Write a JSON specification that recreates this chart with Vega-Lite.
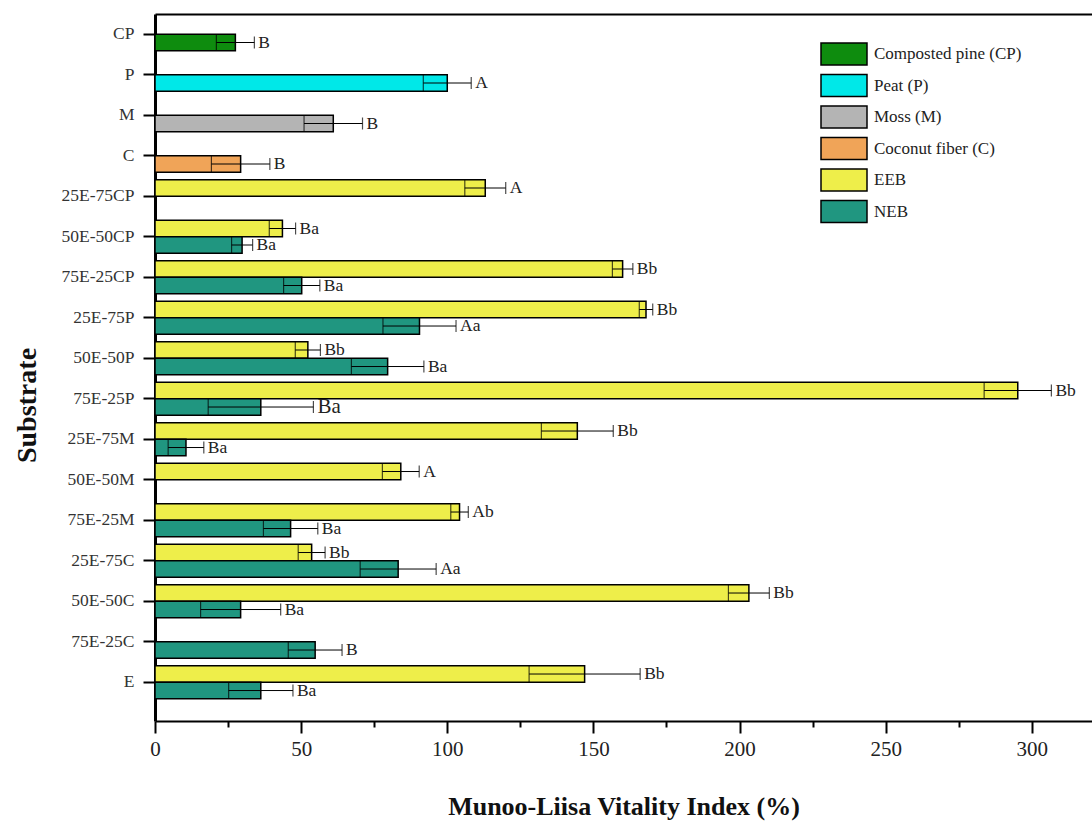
{
  "$schema": "https://vega.github.io/schema/vega-lite/v6.json",
  "width": 937,
  "height": 707,
  "autosize": {"type": "none"},
  "padding": {"left": 155, "top": 14, "right": 0, "bottom": 104},
  "background": "white",
  "data": {
    "values": [
      {"substrate": "CP", "group": "Composted pine (CP)", "value": 27.5, "err": 6.5, "label": "B"},
      {"substrate": "P", "group": "Peat (P)", "value": 100, "err": 8.2, "label": "A"},
      {"substrate": "M", "group": "Moss (M)", "value": 61, "err": 10, "label": "B"},
      {"substrate": "C", "group": "Coconut fiber (C)", "value": 29.3, "err": 10, "label": "B"},
      {"substrate": "25E-75CP", "group": "EEB", "value": 113, "err": 7, "label": "A"},
      {"substrate": "50E-50CP", "group": "EEB", "value": 43.6, "err": 4.5, "label": "Ba"},
      {"substrate": "50E-50CP", "group": "NEB", "value": 29.8, "err": 3.6, "label": "Ba"},
      {"substrate": "75E-25CP", "group": "EEB", "value": 160, "err": 3.5, "label": "Bb"},
      {"substrate": "75E-25CP", "group": "NEB", "value": 50.2, "err": 6.2, "label": "Ba"},
      {"substrate": "25E-75P", "group": "EEB", "value": 168, "err": 2.3, "label": "Bb"},
      {"substrate": "25E-75P", "group": "NEB", "value": 90.5, "err": 12.5, "label": "Aa"},
      {"substrate": "50E-50P", "group": "EEB", "value": 52.3, "err": 4.3, "label": "Bb"},
      {"substrate": "50E-50P", "group": "NEB", "value": 79.6, "err": 12.4, "label": "Ba"},
      {"substrate": "75E-25P", "group": "EEB", "value": 295.2, "err": 11.5, "label": "Bb"},
      {"substrate": "75E-25P", "group": "NEB", "value": 36.2, "err": 18, "label": "Ba"},
      {"substrate": "25E-75M", "group": "EEB", "value": 144.5, "err": 12.3, "label": "Bb"},
      {"substrate": "25E-75M", "group": "NEB", "value": 10.6, "err": 6.1, "label": "Ba"},
      {"substrate": "50E-50M", "group": "EEB", "value": 84.1, "err": 6.3, "label": "A"},
      {"substrate": "75E-25M", "group": "EEB", "value": 104.2, "err": 3, "label": "Ab"},
      {"substrate": "75E-25M", "group": "NEB", "value": 46.4, "err": 9.3, "label": "Ba"},
      {"substrate": "25E-75C", "group": "EEB", "value": 53.6, "err": 4.6, "label": "Bb"},
      {"substrate": "25E-75C", "group": "NEB", "value": 83.2, "err": 13, "label": "Aa"},
      {"substrate": "50E-50C", "group": "EEB", "value": 203.2, "err": 7, "label": "Bb"},
      {"substrate": "50E-50C", "group": "NEB", "value": 29.3, "err": 13.7, "label": "Ba"},
      {"substrate": "75E-25C", "group": "NEB", "value": 54.8, "err": 9.2, "label": "B"},
      {"substrate": "E", "group": "EEB", "value": 147, "err": 19, "label": "Bb"},
      {"substrate": "E", "group": "NEB", "value": 36.2, "err": 11, "label": "Ba"}
    ]
  },
  "transform": [
    {"calculate": "datum.group === 'EEB' ? 'upper' : 'lower'", "as": "slot"},
    {"calculate": "datum.value - datum.err", "as": "lo"},
    {"calculate": "datum.value + datum.err", "as": "hi"}
  ],
  "encoding": {
    "y": {
      "field": "substrate",
      "type": "nominal",
      "sort": ["CP", "P", "M", "C", "25E-75CP", "50E-50CP", "75E-25CP", "25E-75P", "50E-50P", "75E-25P", "25E-75M", "50E-50M", "75E-25M", "25E-75C", "50E-50C", "75E-25C", "E"],
      "scale": {"paddingInner": 0, "paddingOuter": 0.228, "align": 0},
      "axis": {
        "title": "Substrate",
        "titleFont": "Liberation Serif",
        "titleFontSize": 28,
        "titleFontWeight": "bold",
        "titleColor": "#111",
        "titleX": -114,
        "titleY": 391,
        "labelFont": "Liberation Serif",
        "labelFontSize": 17.5,
        "labelColor": "#333",
        "labelPadding": 9,
        "labelLimit": 200,
        "tickSize": 12,
        "tickWidth": 2,
        "tickColor": "black",
        "domainColor": "black",
        "domainWidth": 3
      }
    },
    "yOffset": {
      "field": "slot",
      "type": "nominal",
      "scale": {"domain": ["upper", "lower"], "paddingInner": 0, "paddingOuter": 0.227}
    }
  },
  "layer": [
    {
      "mark": {"type": "bar", "stroke": "black", "strokeWidth": 1.5},
      "encoding": {
        "x": {
          "field": "value",
          "type": "quantitative",
          "scale": {"domain": [0, 320.6], "nice": false, "zero": true},
          "axis": {
            "orient": "bottom",
            "values": [0, 25, 50, 75, 100, 125, 150, 175, 200, 225, 250, 275, 300],
            "labelExpr": "datum.value % 50 === 0 ? datum.label : ''",
            "tickSize": {"condition": {"test": "datum.value % 50 === 0", "value": 12}, "value": 6},
            "tickWidth": 2,
            "tickColor": "black",
            "domainColor": "black",
            "domainWidth": 2,
            "grid": false,
            "labelFont": "Liberation Serif",
            "labelFontSize": 21,
            "labelColor": "#222",
            "labelPadding": 5,
            "labelFlush": false,
            "labelOverlap": false,
            "title": "Munoo-Liisa Vitality Index (%)",
            "titleFont": "Liberation Serif",
            "titleFontSize": 26,
            "titleFontWeight": "bold",
            "titleColor": "#111",
            "titlePadding": 34
          }
        },
        "color": {
          "field": "group",
          "type": "nominal",
          "scale": {
            "domain": ["Composted pine (CP)", "Peat (P)", "Moss (M)", "Coconut fiber (C)", "EEB", "NEB"],
            "range": ["#0e8c0e", "#00e8e8", "#b4b4b4", "#f0a458", "#eeee4a", "#209680"]
          },
          "legend": {
            "orient": "none",
            "legendX": 665,
            "legendY": 26,
            "title": null,
            "symbolType": "M-1,-0.48H1V0.48H-1Z",
            "symbolSize": 2116,
            "symbolStrokeColor": "black",
            "symbolStrokeWidth": 1.5,
            "symbolOpacity": 1,
            "labelFont": "Liberation Serif",
            "labelFontSize": 17,
            "labelColor": "#222",
            "labelOffset": 6,
            "labelLimit": 250,
            "clipHeight": 28,
            "rowPadding": 3.5
          }
        }
      }
    },
    {
      "mark": {"type": "rule", "color": "black", "strokeWidth": 1},
      "encoding": {
        "x": {
          "field": "lo",
          "type": "quantitative",
          "axis": {"orient": "top", "labels": false, "ticks": false, "title": null, "grid": false, "domainColor": "black", "domainWidth": 2}
        },
        "x2": {"field": "hi"}
      }
    },
    {
      "mark": {"type": "tick", "color": "black", "size": 16, "thickness": 1.2},
      "encoding": {"x": {"field": "lo", "type": "quantitative", "axis": null}}
    },
    {
      "mark": {"type": "tick", "color": "black", "size": 12, "thickness": 1.2},
      "encoding": {"x": {"field": "hi", "type": "quantitative", "axis": null}}
    },
    {
      "mark": {"type": "text", "align": "left", "baseline": "middle", "dx": 4, "font": "Liberation Serif", "color": "#222"},
      "encoding": {
        "x": {"field": "hi", "type": "quantitative", "axis": null},
        "text": {"field": "label"},
        "size": {"condition": {"test": "datum.substrate === '75E-25P' && datum.group === 'NEB'", "value": 21}, "value": 17.5}
      }
    }
  ],
  "resolve": {"axis": {"x": "independent"}},
  "config": {"view": {"stroke": null}}
}
